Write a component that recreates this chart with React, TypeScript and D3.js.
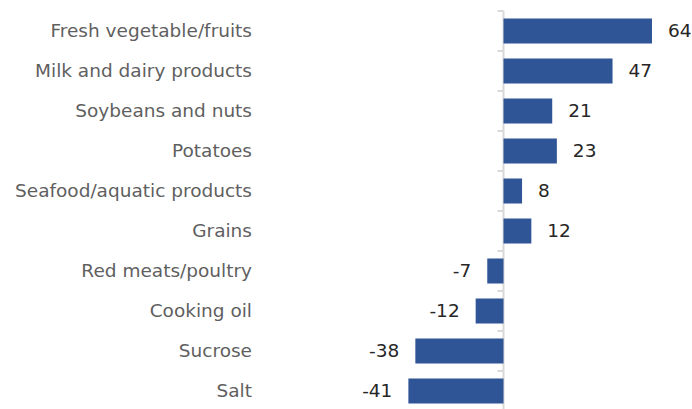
import React, { useEffect, useRef } from "react"
import * as d3 from "d3"

const categories = [
  "Fresh vegetable/fruits",
  "Milk and dairy products",
  "Soybeans and nuts",
  "Potatoes",
  "Seafood/aquatic products",
  "Grains",
  "Red meats/poultry",
  "Cooking oil",
  "Sucrose",
  "Salt",
]
const values = [64, 47, 21, 23, 8, 12, -7, -12, -38, -41]

const App = () => {
  const ref = useRef<SVGSVGElement>(null)

  useEffect(() => {
    document.body.style.margin = "0"
    const svg = d3.select(ref.current)
    svg.selectAll("*").remove()

    const height = 409
    const font = "'DejaVu Sans', sans-serif"
    const fontSize = 18.5

    const x = d3.scaleLinear().domain([-50, 70]).range([387.5, 665.9])
    const y = d3
      .scaleBand()
      .domain(categories)
      .range([11, 411])
      .paddingInner(0.375)
      .paddingOuter(0.1875)
    const step = y.step()
    const x0 = x(0)

    // zero line with category ticks
    const axis = svg.append("g").attr("stroke", "#d9d9d9").attr("stroke-width", 2)
    axis
      .append("line")
      .attr("x1", x0)
      .attr("x2", x0)
      .attr("y1", 11)
      .attr("y2", height)
    axis
      .selectAll("line.tick")
      .data(d3.range(categories.length + 1))
      .enter()
      .append("line")
      .attr("class", "tick")
      .attr("x1", x0 - 6)
      .attr("x2", x0)
      .attr("y1", (i) => 11 + i * step)
      .attr("y2", (i) => 11 + i * step)

    svg
      .selectAll("rect")
      .data(values)
      .enter()
      .append("rect")
      .attr("x", (d) => Math.min(x(d), x0))
      .attr("width", (d) => Math.abs(x(d) - x0))
      .attr("y", (d, i) => y(categories[i])!)
      .attr("height", y.bandwidth())
      .attr("fill", "#2f5597")

    svg
      .selectAll("text.cat")
      .data(categories)
      .enter()
      .append("text")
      .attr("class", "cat")
      .attr("x", 252)
      .attr("y", (d) => y(d)! + y.bandwidth() / 2)
      .attr("dy", "0.35em")
      .attr("text-anchor", "end")
      .attr("font-family", font)
      .attr("font-size", fontSize)
      .attr("fill", "#5f5f5f")
      .text((d) => d)

    svg
      .selectAll("text.val")
      .data(values)
      .enter()
      .append("text")
      .attr("class", "val")
      .attr("x", (d) => (d >= 0 ? x(d) + 16 : x(d) - 16))
      .attr("y", (d, i) => y(categories[i])! + y.bandwidth() / 2)
      .attr("dy", "0.35em")
      .attr("text-anchor", (d) => (d >= 0 ? "start" : "end"))
      .attr("font-family", font)
      .attr("font-size", fontSize)
      .attr("fill", "#262626")
      .text((d) => d)
  }, [])

  return <svg ref={ref} width={692} height={409} style={{ display: "block" }} />
}

export default App
